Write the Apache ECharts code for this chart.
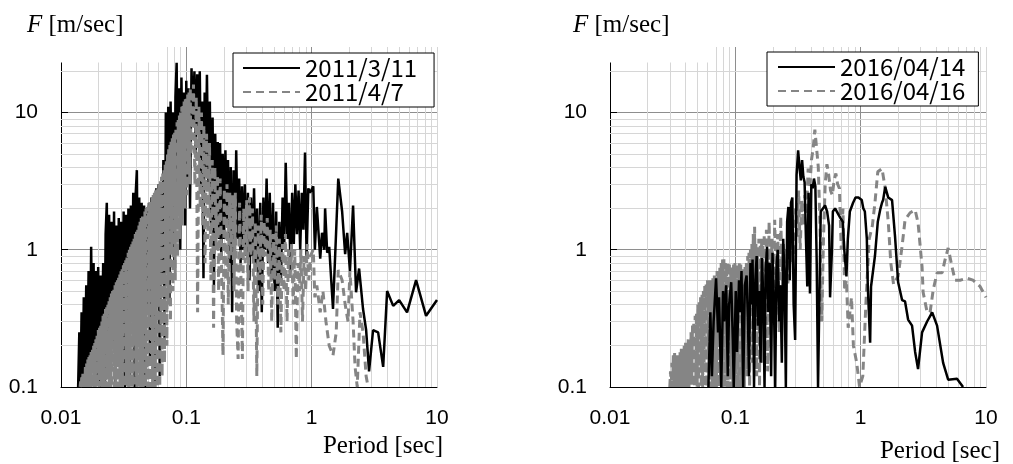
<!DOCTYPE html>
<html>
<head>
<meta charset="utf-8">
<script src="https://cdn.jsdelivr.net/npm/echarts@6/dist/echarts.min.js"></script>
<style>
html,body{margin:0;padding:0;background:#fff;}
#c{width:1013px;height:464px;}
</style>
</head>
<body>
<div id="c"></div>
<script>
// ---------------- DATA ----------------
const xTickLabels = ['0.01', '0.1', '1', '10'];
const yTickLabels = ['0.1', '1', '10'];
const minorX = [0.02,0.03,0.04,0.05,0.06,0.07,0.08,0.09,0.2,0.3,0.4,0.5,0.6,0.7,0.8,0.9,2,3,4,5,6,7,8,9,10];
const minorY = [0.2,0.3,0.4,0.5,0.6,0.7,0.8,0.9,2,3,4,5,6,7,8,9,20];
const legendLeft = ['2011/3/11', '2011/4/7'];
const legendRight = ['2016/04/14', '2016/04/16'];

// 2011/3/11 : [period (s), F (m/s)]
const eq20110311 = [
[0.0137,0.1],[0.0140,0.25],[0.0143,0.1],[0.0146,0.35],[0.0149,0.1],[0.0152,0.45],[0.0155,0.1],[0.0159,0.55],[0.0162,0.12],[0.0166,0.7],
[0.0170,0.1],[0.0174,1.05],[0.0178,0.15],[0.0182,0.8],[0.0186,0.1],[0.0190,0.7],[0.0194,0.12],[0.0198,0.75],[0.0203,0.1],[0.0207,0.65],
[0.0212,0.18],[0.0217,0.8],[0.0222,0.1],[0.0227,1.3],[0.0232,2.2],[0.0237,0.15],[0.0242,1.8],[0.0248,0.1],[0.0253,1.6],[0.0259,0.2],
[0.0265,1.9],[0.0271,0.1],[0.0277,1.5],[0.0283,0.25],[0.0289,1.7],[0.0296,0.1],[0.0302,1.6],[0.0309,0.3],[0.0316,1.9],[0.0323,0.1],
[0.0330,1.8],[0.0338,0.3],[0.0345,2.0],[0.0353,0.12],[0.0361,2.1],[0.0369,0.35],[0.0377,2.6],[0.0386,0.1],[0.0394,2.5],[0.0403,3.8],
[0.0412,0.3],[0.0421,2.4],[0.0431,0.12],[0.0440,2.2],[0.0450,0.4],[0.0460,2.1],[0.0471,0.1],[0.0481,2.0],[0.0492,0.4],[0.0503,2.2],
[0.0514,0.15],[0.0526,2.4],[0.0538,0.5],[0.0550,2.1],[0.0562,0.1],[0.0575,2.8],[0.0588,0.5],[0.0601,3.0],[0.0614,0.12],[0.0628,2.7],
[0.0642,0.6],[0.0656,4.5],[0.0671,0.2],[0.0686,10],[0.0701,0.8],[0.0717,11],[0.0733,0.4],[0.0749,12],[0.0766,1.5],[0.0783,10],
[0.0801,0.8],[0.0819,13],[0.0837,23],[0.0856,2],[0.0875,15],[0.0894,1.0],[0.0914,18],[0.0935,3],[0.0956,14],[0.0977,1.5],
[0.0999,17],[0.102,3],[0.104,15],[0.107,2],
[0.110,21],[0.113,8],[0.116,20],[0.119,5],[0.122,19],[0.125,7],[0.128,20],[0.131,3],[0.134,12],[0.137,0.62],
[0.140,14],[0.143,4],[0.146,18.8],[0.150,3],[0.154,12],[0.158,1.5],[0.162,9.2],[0.166,0.55],[0.170,7],[0.174,2],
[0.178,6.1],[0.182,1.2],[0.186,6],[0.190,0.9],[0.195,5],[0.200,1.2],[0.205,5.3],[0.210,1.5],[0.215,4.5],[0.220,0.8],
[0.226,4],[0.232,0.35],[0.238,3.8],[0.244,1.0],[0.250,5.3],[0.257,1.2],[0.264,3.3],[0.271,0.8],[0.278,2.9],[0.285,1.0],
[0.293,3.0],[0.301,0.9],[0.310,2.6],[0.319,0.6],[0.328,2.4],[0.337,0.9],[0.347,2.8],[0.357,0.7],[0.367,2.0],[0.378,0.5],
[0.389,2.2],[0.400,0.35],[0.412,2.4],[0.424,1.0],[0.437,3.3],[0.450,0.8],[0.463,2.6],[0.477,0.6],[0.491,2.2],[0.506,0.5],
[0.521,1.9],[0.536,0.27],[0.552,1.6],[0.569,0.6],[0.586,2.4],[0.603,1.0],[0.621,4.3],[0.640,1.2],[0.659,2.2],[0.679,0.7],
[0.699,2.6],[0.720,1.1],[0.741,3.0],[0.763,1.3],[0.786,2.7],[0.810,1.0],[0.834,2.6],[0.859,1.4],[0.885,5.1],[0.911,0.87],
[0.940,2.8],
[0.97,2.6],[1.03,2.9],[1.06,1.0],[1.10,2.05],[1.17,0.86],[1.21,1.33],[1.26,1.0],[1.28,2.0],[1.33,0.95],[1.38,1.05],
[1.48,0.37],[1.63,3.3],[1.75,1.9],[1.85,0.93],[1.92,1.33],[2.02,0.7],[2.14,2.1],[2.26,0.49],[2.39,0.73],[2.57,0.37],
[2.72,0.26],[2.87,0.13],[3.09,0.26],[3.39,0.25],[3.72,0.14],[4.0,0.5],[4.47,0.39],[4.99,0.43],[5.77,0.35],[6.81,0.6],
[8.18,0.33],[10,0.43]
];

// 2011/4/7
const eq20110407 = [
[0.0142,0.1],[0.01435,0.11],[0.0145,0.1],[0.01465,0.12],[0.0148,0.1],[0.01495,0.125],[0.0151,0.1],[0.0153,0.13],[0.0155,0.1],[0.01565,0.14],
[0.0158,0.1],[0.0160,0.15],[0.0162,0.1],[0.01635,0.16],[0.0165,0.1],[0.0167,0.165],[0.0169,0.1],[0.01705,0.17],[0.0172,0.1],[0.0174,0.18],
[0.0176,0.1],[0.0178,0.19],[0.0180,0.1],[0.0182,0.2],[0.0184,0.1],[0.0186,0.21],[0.0188,0.1],[0.0190,0.23],[0.0192,0.1],[0.0194,0.24],
[0.0196,0.1],[0.01985,0.26],[0.0201,0.1],[0.0203,0.27],[0.0205,0.12],[0.02075,0.29],[0.0210,0.1],[0.0212,0.31],[0.0214,0.1],[0.02165,0.33],
[0.0219,0.1],[0.02215,0.35],[0.0224,0.1],[0.02265,0.37],[0.0229,0.1],[0.02315,0.39],[0.0234,0.12],[0.02365,0.41],[0.0239,0.1],[0.02415,0.43],
[0.0244,0.1],[0.0247,0.45],[0.0250,0.1],[0.02525,0.48],[0.0255,0.1],[0.0258,0.5],[0.0261,0.13],[0.0264,0.53],[0.0267,0.1],[0.0270,0.55],
[0.0273,0.1],[0.0276,0.58],[0.0279,0.1],[0.0282,0.6],[0.0285,0.14],[0.0288,0.63],[0.0291,0.1],[0.02945,0.66],[0.0298,0.1],[0.0301,0.7],
[0.0304,0.1],[0.03075,0.73],[0.0311,0.15],[0.03145,0.77],[0.0318,0.1],[0.03215,0.8],[0.0325,0.1],[0.03285,0.85],[0.0332,0.12],[0.0336,0.9],
[0.0340,0.1],[0.03435,0.95],[0.0347,0.1],[0.0351,1.0],[0.0355,0.16],[0.0359,1.05],[0.0363,0.1],[0.0367,1.1],[0.0371,0.1],[0.0375,1.15],
[0.0379,0.2],[0.0383,1.2],[0.0387,0.1],[0.03915,1.3],[0.0396,0.12],[0.04005,1.35],[0.0405,0.1],[0.04095,1.45],[0.0414,0.22],[0.04185,1.5],
[0.0423,0.1],[0.04275,1.6],[0.0432,0.1],[0.0437,1.7],[0.0442,0.15],[0.0447,1.75],[0.0452,0.1],[0.0457,1.8],[0.0462,0.25],[0.0467,1.9],
[0.0472,0.1],[0.0477,2.0],[0.0482,0.12],[0.04875,2.05],[0.0493,0.1],[0.04985,2.1],[0.0504,0.3],[0.05095,2.2],[0.0515,0.1],[0.0521,2.3],
[0.0527,0.15],[0.05325,2.4],[0.0538,0.1],[0.0544,2.5],[0.0550,0.35],[0.0556,2.6],[0.0562,0.1],[0.05685,2.7],[0.0575,0.2],[0.0581,2.75],
[0.0587,0.1],[0.05935,2.8],[0.0600,0.4],[0.0607,3.0],[0.0614,0.1],[0.06205,3.2],[0.0627,0.25],[0.0634,3.4],[0.0641,0.12],[0.0648,3.6],
[0.0655,0.5],[0.06625,3.9],[0.0670,0.15],[0.06775,4.2],[0.0685,0.7],[0.06925,4.6],[0.0700,0.2],[0.07075,5.0],[0.0715,0.4],[0.0723,5.4],
[0.0731,0.9],[0.0739,5.8],[0.0747,0.3],[0.07555,6.2],[0.0764,1.0],[0.07725,6.5],[0.0781,0.5],[0.07895,6.9],[0.0798,1.2],[0.0807,7.2],
[0.0816,0.6],[0.0825,7.8],[0.0834,1.5],[0.0843,8.5],[0.0852,0.9],[0.08615,8.8],[0.0871,2.0],[0.08805,9.5],[0.0890,1.2],[0.0900,10],
[0.0910,2.5],[0.0920,11],[0.0930,1.5],[0.0940,11.5],[0.0950,3],[0.09605,12],[0.0971,2],[0.0982,12.5],[0.0993,3.5],[0.1003,13],
[0.1013,2.5],[0.1025,13.5],[0.1038,4],[0.1050,14],[0.1063,3],[0.1075,15],[0.1085,5],
[0.111,6],[0.114,16],[0.117,3],[0.120,13],[0.123,0.35],[0.126,11],[0.129,2],[0.132,10],[0.135,1.5],[0.138,8],
[0.141,0.8],[0.145,7],[0.149,1.2],[0.153,6],[0.157,0.6],[0.161,4.5],[0.165,0.27],[0.169,4],[0.173,1.0],[0.177,3.5],
[0.181,0.5],[0.186,3.3],[0.191,0.8],[0.196,0.17],[0.201,2.8],[0.206,0.6],[0.211,3.0],[0.216,0.4],[0.222,2.6],[0.228,0.9],
[0.234,2.5],[0.240,0.5],[0.246,2.6],[0.252,0.3],[0.259,0.16],[0.266,2.2],[0.273,0.6],[0.280,0.16],[0.287,2.0],[0.295,0.8],
[0.303,2.3],[0.311,0.5],[0.319,2.4],[0.328,0.9],[0.337,2.0],[0.346,0.3],[0.355,1.6],[0.365,0.12],[0.375,1.5],[0.385,0.6],
[0.396,1.8],[0.407,0.4],[0.418,1.6],[0.430,0.9],[0.442,1.7],[0.454,0.5],[0.467,1.4],[0.480,0.3],[0.494,1.3],[0.508,0.6],
[0.522,1.5],[0.537,0.4],[0.552,1.2],[0.568,0.25],[0.584,1.1],[0.601,0.5],[0.618,1.3],[0.636,0.3],[0.654,1.0],[0.673,0.6],
[0.692,1.1],[0.712,0.4],[0.733,1.0],[0.754,0.16],[0.776,0.8],[0.798,0.5],[0.821,1.0],[0.845,0.3],[0.870,0.9],[0.895,0.5],
[0.921,1.1],[0.948,0.6],[0.976,0.9],
[1.03,1.0],[1.06,0.45],[1.10,0.55],[1.17,0.35],[1.23,0.5],[1.30,0.3],[1.38,0.2],[1.48,0.17],[1.57,0.25],[1.63,0.71],
[1.75,0.6],[1.85,0.4],[1.95,0.3],[2.02,0.7],[2.14,0.3],[2.22,0.14],[2.31,0.1],[2.43,0.35],[2.57,0.25],[2.72,0.12],[2.82,0.1]
];

// 2016/04/14
const eq20160414 = [
[0.061,0.1],[0.0632,0.35],[0.065,0.12],[0.0671,0.3],[0.0702,0.62],[0.0728,0.25],[0.0741,0.45],[0.0772,0.1],[0.0798,0.5],[0.0814,0.3],
[0.0845,0.55],[0.0871,0.12],[0.0892,0.4],[0.0927,0.58],[0.0955,0.22],[0.0971,0.1],[0.1008,0.5],[0.1032,0.18],[0.107,0.6],[0.109,0.35],
[0.112,0.7],[0.1155,0.1],[0.119,0.55],[0.123,0.65],[0.1262,0.3],[0.1285,0.12],[0.132,0.8],[0.135,0.4],[0.1372,0.85],[0.141,0.1],
[0.1445,0.6],[0.148,0.9],[0.1515,0.28],[0.155,0.5],[0.159,0.15],[0.163,0.87],[0.167,0.45],[0.171,0.1],[0.1745,0.7],[0.179,1.05],
[0.1835,0.35],[0.188,0.8],[0.193,0.12],[0.198,0.95],[0.203,0.45],[0.208,0.1],[0.213,0.75],[0.218,1.0],[0.2235,0.3],[0.229,0.55],
[0.235,0.15],[0.241,1.2],[0.247,0.6],[0.253,0.1],[0.259,1.6],[0.265,2.05],[0.272,0.6],[0.278,2.2],[0.285,2.4],[0.292,0.4],
[0.300,0.22],[0.308,3.5],[0.317,5.3],
[0.325,4.0],[0.333,3.2],[0.341,4.5],[0.349,3.4],[0.357,3.1],[0.366,1.2],[0.375,0.54],[0.384,2.6],[0.394,0.48],[0.404,3.0],
[0.414,2.8],[0.424,3.3],[0.435,2.9],[0.446,0.8],[0.457,0.1],[0.468,0.1],[0.48,1.9],[0.50,2.0],[0.52,2.1],[0.54,1.9],
[0.56,1.5],[0.57,0.45],[0.59,1.0],[0.60,1.9],[0.625,2.0],[0.646,2.0],[0.665,1.8],[0.69,1.7],[0.72,1.6],[0.74,1.0],
[0.77,0.64],[0.79,1.2],[0.82,1.9],[0.87,2.2],[0.91,2.4],[0.96,2.4],[1.02,2.3],[1.05,2.0],[1.08,1.9],[1.12,1.2],
[1.14,0.54],[1.19,0.21],[1.21,0.54],[1.25,0.55],[1.30,0.9],[1.37,1.6],[1.43,1.95],[1.48,2.2],[1.51,2.3],[1.57,2.87],
[1.66,2.4],[1.78,2.3],[1.88,1.25],[1.99,0.58],[2.14,0.43],[2.26,0.42],[2.39,0.31],[2.57,0.28],[2.72,0.18],[2.87,0.135],
[3.09,0.25],[3.39,0.3],[3.72,0.35],[4.07,0.28],[4.55,0.15],[4.99,0.113],[5.87,0.115],[6.56,0.1]
];

// 2016/04/16
const eq20160416 = [
[0.0300,0.1],[0.0304,0.13],[0.0308,0.1],[0.0312,0.15],[0.0316,0.1],[0.0320,0.17],[0.0324,0.1],[0.0328,0.18],[0.0332,0.1],[0.0336,0.15],
[0.0340,0.1],[0.0344,0.17],[0.0349,0.1],[0.0353,0.16],[0.0358,0.1],[0.0362,0.18],[0.0367,0.1],[0.0371,0.19],[0.0376,0.1],[0.0381,0.17],
[0.0386,0.1],[0.0391,0.2],[0.0396,0.1],[0.0401,0.21],[0.0406,0.1],[0.0411,0.2],[0.0416,0.1],[0.0421,0.23],[0.0427,0.1],[0.0432,0.22],
[0.0438,0.1],[0.0443,0.25],[0.0449,0.11],[0.0455,0.28],[0.0460,0.1],[0.0466,0.3],[0.0472,0.1],[0.0478,0.33],[0.0484,0.12],[0.0490,0.35],
[0.0496,0.1],[0.0502,0.4],[0.0509,0.1],[0.0515,0.42],[0.0522,0.13],[0.0528,0.45],[0.0535,0.1],[0.0542,0.47],[0.0549,0.1],[0.0556,0.5],
[0.0563,0.15],[0.0570,0.55],[0.0577,0.1],[0.0585,0.58],[0.0592,0.1],[0.0600,0.6],[0.0607,0.17],[0.0615,0.62],[0.0622,0.1],[0.0630,0.6],
[0.0638,0.12],[0.0646,0.58],[0.0654,0.1],[0.0662,0.62],[0.0671,0.2],[0.0680,0.65],[0.0688,0.1],[0.0697,0.63],[0.0706,0.1],[0.0715,0.7],
[0.0724,0.22],[0.0733,0.68],[0.0742,0.1],[0.0752,0.75],[0.0761,0.12],[0.0771,0.8],[0.0781,0.1],[0.0791,0.85],[0.0801,0.25],[0.0811,0.87],
[0.0821,0.1],[0.0832,0.8],[0.0842,0.13],[0.0853,0.78],[0.0864,0.1],[0.0875,0.82],[0.0886,0.3],[0.0897,0.8],[0.0909,0.1],[0.0920,0.75],
[0.0932,0.12],[0.0944,0.7],[0.0956,0.1],[0.0968,0.78],[0.0980,0.2],[0.0993,0.8],[0.1005,0.1],[0.1018,0.77],[0.103,0.15],[0.1045,0.75],
[0.106,0.1],[0.1075,0.8],[0.109,0.35],[0.1105,0.78],[0.112,0.1],[0.1135,0.7],[0.115,0.2],[0.1165,0.72],[0.118,0.1],[0.1195,0.75],
[0.121,0.4],[0.1225,0.8],[0.124,0.12],[0.1255,0.9],[0.127,0.2],[0.1285,0.95],[0.130,0.1],[0.132,1.0],[0.134,0.5],[0.1355,1.1],
[0.137,0.15],[0.139,1.3],[0.141,0.3],[0.1425,1.47],[0.144,0.6],[0.146,1.1],[0.148,0.12],[0.150,1.0],[0.152,0.35],[0.154,1.2],
[0.156,0.1],[0.158,1.1],[0.160,0.3],[0.162,1.2],[0.164,0.15],[0.166,1.1],[0.168,0.4],[0.170,1.3],[0.172,0.2],
[0.177,1.4],[0.181,0.13],[0.186,1.6],[0.191,0.5],[0.196,1.2],[0.201,0.3],[0.206,1.65],[0.212,0.6],[0.218,1.3],[0.224,0.25],
[0.230,1.75],[0.236,0.7],[0.242,1.1],[0.249,0.4],[0.256,1.0],[0.263,0.55],[0.270,1.3],[0.278,0.8],[0.286,1.8],[0.294,0.9],
[0.302,2.0],[0.311,1.2],[0.320,2.7],[0.329,1.0],[0.339,2.3],[0.349,1.5],[0.359,2.5],[0.370,1.8],[0.381,3.9],[0.393,2.8],
[0.405,4.5],[0.418,5.5],[0.431,7.5],[0.445,5.5],[0.459,4.0],[0.474,1.5],[0.489,0.3],[0.505,1.2],[0.521,3.0],[0.538,4.2],
[0.556,3.5],[0.575,2.7],[0.594,2.5],[0.614,3.2],[0.634,3.6],[0.655,3.0],[0.677,2.8],[0.700,1.0],[0.722,2.0],[0.745,0.5],
[0.770,0.6],[0.795,0.27],[0.820,0.35],[0.845,0.45],[0.875,0.2],[0.93,0.15],[0.98,0.1],[1.04,0.12],[1.10,0.4],[1.17,1.2],
[1.24,1.5],[1.30,2.2],[1.37,3.7],[1.48,3.9],[1.57,2.8],[1.66,1.6],[1.74,0.8],[1.83,0.56],[1.99,0.64],[2.14,1.06],
[2.26,1.65],[2.48,1.86],[2.72,1.95],[2.87,1.57],[3.09,0.75],[3.15,0.49],[3.39,0.35],[3.58,0.35],[3.79,0.51],[4.07,0.68],
[4.47,0.68],[4.72,0.85],[4.99,1.03],[5.36,0.75],[5.66,0.6],[6.21,0.6],[7.06,0.62],[7.88,0.6],[8.97,0.54],[10,0.45]
];

// ---------------- CHART ----------------
const BLACK = '#000000';
const GRAY = '#858585';
const MAJOR = '#8e8e8e';
const MINOR = '#d6d6d6';

function fmt(labels) {
  return function (v) {
    for (const l of labels) {
      if (Math.abs(Math.log10(+l) - Math.log10(v)) < 1e-6) return l;
    }
    return '';
  };
}

function xAxisFor(i) {
  return {
    type: 'log', logBase: 10, gridIndex: i, min: 0.01, max: 10,
    axisLine: { show: true, lineStyle: { color: '#000', width: 1 } },
    axisTick: { show: false },
    axisLabel: { fontFamily: 'Liberation Sans', fontSize: 21, color: '#000', margin: 21, formatter: fmt(xTickLabels) },
    splitLine: { show: true, showMinLine: false, showMaxLine: false, lineStyle: { color: MAJOR, width: 1 } }
  };
}
function yAxisFor(i) {
  return {
    type: 'log', logBase: 10, gridIndex: i, min: 0.1, max: 30,
    axisLine: { show: true, lineStyle: { color: '#000', width: 1 } },
    axisTick: { show: true, inside: true, length: 7, lineStyle: { color: '#000' } },
    axisLabel: { fontFamily: 'Liberation Sans', fontSize: 21, color: '#000', margin: 23, formatter: fmt(yTickLabels), showMaxLabel: false },
    splitLine: { show: true, showMinLine: false, showMaxLine: false, lineStyle: { color: MAJOR, width: 1 } }
  };
}
function gridHelper(i) {
  return {
    type: 'line', name: 'grid' + i, xAxisIndex: i, yAxisIndex: i, data: [], silent: true, z: 1,
    markLine: {
      silent: true, z: 1, animation: false, symbol: ['none', 'none'],
      label: { show: false },
      lineStyle: { color: MINOR, type: 'solid', width: 1 },
      emphasis: { disabled: true },
      data: minorX.map(v => ({ xAxis: v })).concat(minorY.map(v => ({ yAxis: v })))
    }
  };
}
function dataSeries(name, data, i, dashed, z) {
  return {
    type: 'line', name: name, xAxisIndex: i, yAxisIndex: i, data: data,
    symbol: 'none', showSymbol: false, animation: false, z: z,
    lineStyle: { color: dashed ? GRAY : BLACK, width: dashed ? 3 : 2.5, type: dashed ? [8, 5] : 'solid' },
    itemStyle: { color: dashed ? GRAY : BLACK },
    emphasis: { disabled: true }
  };
}
function legendFor(names, left, top, pad) {
  return {
    data: names, orient: 'vertical', left: left, top: top, selectedMode: false,
    itemWidth: 57, itemHeight: 14, itemGap: 0, padding: pad,
    itemStyle: { opacity: 0 },
    borderColor: '#000', borderWidth: 1, backgroundColor: '#fff', borderRadius: 0,
    textStyle: { fontFamily: 'Noto Sans CJK JP', fontSize: 24, color: '#000', lineHeight: 24 }
  };
}
function titleText(x, y) {
  return {
    type: 'text', x: x, y: y, z: 20,
    style: {
      text: '{i|F} [m/sec]', fontFamily: 'Liberation Serif', fontSize: 25, fill: '#000',
      align: 'left', verticalAlign: 'middle',
      rich: { i: { fontStyle: 'italic', fontFamily: 'Liberation Serif', fontSize: 25, fill: '#000' } }
    }
  };
}
function periodText(x, y) {
  return {
    type: 'text', x: x, y: y, z: 20,
    style: { text: 'Period [sec]', fontFamily: 'Liberation Serif', fontSize: 25, fill: '#000', align: 'right', verticalAlign: 'middle' }
  };
}

const chart = echarts.init(document.getElementById('c'), null, { renderer: 'canvas' });
chart.setOption({
  animation: false,
  backgroundColor: '#fff',
  grid: [
    { left: 61, top: 47, width: 376, height: 340 },
    { left: 610, top: 47, width: 376, height: 340 }
  ],
  xAxis: [xAxisFor(0), xAxisFor(1)],
  yAxis: [yAxisFor(0), yAxisFor(1)],
  legend: [
    legendFor(legendLeft, 233, 53, [3, 17, 3, 9]),
    legendFor(legendRight, 767, 52, [3, 13, 3, 10])
  ],
  series: [
    gridHelper(0), gridHelper(1),
    dataSeries(legendLeft[0], eq20110311, 0, false, 2),
    dataSeries(legendLeft[1], eq20110407, 0, true, 3),
    dataSeries(legendRight[0], eq20160414, 1, false, 3),
    dataSeries(legendRight[1], eq20160416, 1, true, 2)
  ],
  graphic: [
    { type: 'rect', z: 10, shape: { x: 55, y: 38, width: 108, height: 24.5 }, style: { fill: '#fff' } },
    { type: 'rect', z: 10, shape: { x: 604, y: 38, width: 108, height: 24.5 }, style: { fill: '#fff' } },
    titleText(27, 25),
    titleText(573, 25),
    periodText(443, 446),
    periodText(1000, 451)
  ]
});
</script>
</body>
</html>
